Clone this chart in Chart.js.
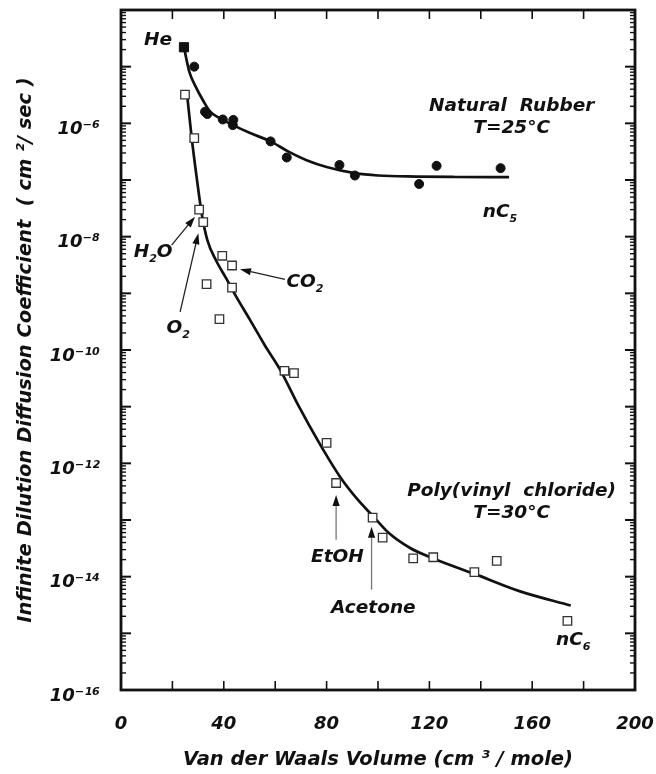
<!DOCTYPE html>
<html>
<head>
<meta charset="utf-8">
<script src="https://cdn.jsdelivr.net/npm/chart.js@4.4.1/dist/chart.umd.min.js"></script>
<style>
  html, body { margin: 0; padding: 0; background: #fff; }
  canvas { display: block; }
</style>
</head>
<body>
<canvas id="c" width="656" height="774" style="width:656px;height:774px"></canvas>
<script>
// ---- data -------------------------------------------------------------
// Natural rubber, 25 °C: measured points (Van der Waals volume, D in cm²/s)
const nrX = [24.5, 28.5, 32.7, 33.6, 39.6, 43.7, 43.5, 58.2, 64.5, 85, 91, 116, 122.8, 147.7];
const nrD = [2.2e-5, 1.0e-5, 1.6e-6, 1.46e-6, 1.17e-6, 1.15e-6, 9.3e-7, 4.8e-7, 2.5e-7, 1.84e-7, 1.2e-7, 8.5e-8, 1.78e-7, 1.62e-7];

// Natural rubber correlation curve
const nrFitX = [24.5, 26.6, 29, 32, 34.6, 38, 43.6, 50, 58.2, 65, 72.2, 80, 91, 100, 115, 130, 151];
const nrFitD = [2.2e-5, 8.1e-6, 4.5e-6, 2.5e-6, 1.62e-6, 1.26e-6, 9.3e-7, 6.8e-7, 4.8e-7, 3.2e-7, 2.24e-7, 1.7e-7, 1.32e-7, 1.2e-7, 1.15e-7, 1.13e-7, 1.12e-7];

// Poly(vinyl chloride), 30 °C: measured points
const pvcX = [24.9, 28.5, 30.4, 32.0, 39.4, 43.2, 33.3, 43.2, 38.3, 63.6, 67.3, 80.0, 83.7, 97.9, 101.8, 113.7, 121.5, 137.5, 146.2, 173.7];
const pvcD = [3.2e-6, 5.5e-7, 3.0e-8, 1.8e-8, 4.6e-9, 3.1e-9, 1.45e-9, 1.26e-9, 3.5e-10, 4.3e-11, 3.9e-11, 2.3e-12, 4.5e-13, 1.1e-13, 4.9e-14, 2.1e-14, 2.2e-14, 1.2e-14, 1.9e-14, 1.66e-15];

// Poly(vinyl chloride) correlation curve
const pvcFitX = [25.8, 27.5, 29.4, 31.4, 33.6, 37, 41, 45, 50.2, 56, 61.9, 69, 77, 85.2, 91.7, 98.2, 104, 112.5, 121.5, 137.5, 155.3, 175];
const pvcFitD = [2.95e-6, 5.6e-7, 1.15e-7, 2.57e-8, 8.7e-9, 3.8e-9, 1.82e-9, 8.5e-10, 3.4e-10, 1.2e-10, 4.5e-11, 1.05e-11, 2.34e-12, 5.8e-13, 2.4e-13, 1.15e-13, 6.0e-14, 3.2e-14, 2.1e-14, 1.12e-14, 5.5e-15, 3.1e-15];

// axis ticks
const xLabelTicks = [0, 40, 80, 120, 160, 200];
const xMarkTicks = [20, 40, 60, 80, 100, 120, 140, 160, 180];
const yLabelTicks = [1e-16, 1e-14, 1e-12, 1e-10, 1e-8, 1e-6];

// ---- text annotations (placed in data units) ---------------------------
const notes = [
  { parts: [['He', '']], x: 14.4, y: 2.9e-5 },
  { parts: [['Natural  Rubber', '']], x: 152, y: 1.97e-6 },
  { parts: [['T=25°C', '']], x: 152, y: 8.2e-7 },
  { parts: [['nC', ''], ['5', 'sub']], x: 147.5, y: 2.75e-8 },
  { parts: [['H', ''], ['2', 'sub'], ['O', '']], x: 12.5, y: 5.4e-9 },
  { parts: [['O', ''], ['2', 'sub']], x: 22.3, y: 2.4e-10 },
  { parts: [['CO', ''], ['2', 'sub']], x: 71.6, y: 1.55e-9 },
  { parts: [['EtOH', '']], x: 84.2, y: 2.2e-14 },
  { parts: [['Acetone', '']], x: 98.2, y: 2.75e-15 },
  { parts: [['Poly(vinyl  chloride)', '']], x: 152, y: 3.16e-13 },
  { parts: [['T=30°C', '']], x: 152, y: 1.32e-13 },
  { parts: [['nC', ''], ['6', 'sub']], x: 176, y: 7.6e-16 }
];
const arrows = [
  { from: [19.7, 7.1e-9], to: [28.8, 2.25e-8], color: '#222' },
  { from: [23.0, 4.7e-10], to: [30.1, 1.15e-8], color: '#222' },
  { from: [63.8, 1.77e-9], to: [46.3, 2.65e-9], color: '#222' },
  { from: [83.7, 4.5e-14], to: [83.7, 2.75e-13], color: '#777' },
  { from: [97.5, 5.9e-15], to: [97.5, 7.6e-14], color: '#777' }
];

// ---- helpers ----------------------------------------------------------
const FAMILY = '"DejaVu Sans", "Liberation Sans", sans-serif';
const INK = '#111';
const SUP = { '0': '⁰', '1': '¹', '2': '²', '3': '³', '4': '⁴', '5': '⁵', '6': '⁶', '7': '⁷', '8': '⁸', '9': '⁹', '-': '⁻' };
const toPoints = (xs, ys) => xs.map((v, i) => ({ x: v, y: ys[i] }));

function drawRich(ctx, parts, cx, cy, size) {
  const fontFor = k => `italic bold ${k ? Math.round(size * 0.62) : size}px ${FAMILY}`;
  let w = 0;
  for (const [t, k] of parts) { ctx.font = fontFor(k); w += ctx.measureText(t).width; }
  let px = cx - w / 2;
  ctx.textAlign = 'left';
  ctx.textBaseline = 'middle';
  for (const [t, k] of parts) {
    ctx.font = fontFor(k);
    const dy = k === 'sub' ? size * 0.38 : k === 'sup' ? -size * 0.4 : 0;
    ctx.fillText(t, px, cy + dy);
    px += ctx.measureText(t).width;
  }
}

function drawArrow(ctx, x1, y1, x2, y2, color) {
  const ang = Math.atan2(y2 - y1, x2 - x1);
  const len = 11, half = 3.6;
  const bx = x2 - Math.cos(ang) * len, by = y2 - Math.sin(ang) * len;
  ctx.strokeStyle = color;
  ctx.lineWidth = 1.3;
  ctx.beginPath();
  ctx.moveTo(x1, y1);
  ctx.lineTo(bx, by);
  ctx.stroke();
  ctx.fillStyle = INK;
  ctx.beginPath();
  ctx.moveTo(x2, y2);
  ctx.lineTo(bx - Math.sin(ang) * half, by + Math.cos(ang) * half);
  ctx.lineTo(bx + Math.sin(ang) * half, by - Math.cos(ang) * half);
  ctx.closePath();
  ctx.fill();
}

// frame, inward tick marks and annotations
const framePlugin = {
  id: 'frame',
  afterDraw(chart) {
    const { ctx, chartArea: a, scales: { x, y } } = chart;
    ctx.save();
    ctx.strokeStyle = INK;
    ctx.lineCap = 'butt';
    const seg = (x1, y1, x2, y2) => { ctx.beginPath(); ctx.moveTo(x1, y1); ctx.lineTo(x2, y2); ctx.stroke(); };

    ctx.lineWidth = 1.6;
    for (const v of xMarkTicks) {
      const px = x.getPixelForValue(v);
      seg(px, a.bottom, px, a.bottom - 9);
      seg(px, a.top, px, a.top + 9);
    }
    for (let e = -16; e <= -4; e++) {
      for (let m = 1; m <= 9; m++) {
        if (e === -4 && m > 1) break;
        const py = y.getPixelForValue(m * Math.pow(10, e));
        const len = m === 1 ? 10 : 5;
        ctx.lineWidth = m === 1 ? 2 : 1.4;
        seg(a.left, py, a.left + len, py);
        seg(a.right, py, a.right - len, py);
      }
    }
    ctx.lineWidth = 2.8;
    ctx.strokeRect(a.left, a.top, a.right - a.left, a.bottom - a.top);

    for (const ar of arrows) {
      drawArrow(ctx,
        x.getPixelForValue(ar.from[0]), y.getPixelForValue(ar.from[1]),
        x.getPixelForValue(ar.to[0]), y.getPixelForValue(ar.to[1]), ar.color);
    }
    ctx.fillStyle = INK;
    for (const n of notes) {
      drawRich(ctx, n.parts, x.getPixelForValue(n.x), y.getPixelForValue(n.y), 18.5);
    }
    ctx.restore();
  }
};

// ---- chart ------------------------------------------------------------
const tickFont = { family: FAMILY, size: 18, style: 'italic', weight: 'bold' };
const titleFont = { family: FAMILY, size: 19.5, style: 'italic', weight: 'bold' };

new Chart(document.getElementById('c'), {
  type: 'scatter',
  data: {
    datasets: [
      {
        label: 'Natural Rubber (25 °C)',
        data: toPoints(nrX, nrD),
        pointStyle: nrX.map((_, i) => (i === 0 ? 'rect' : 'circle')),
        pointRadius: nrX.map((_, i) => (i === 0 ? 6.5 : 4.5)),
        backgroundColor: INK,
        borderColor: INK,
        borderWidth: 1,
        order: 0
      },
      {
        label: 'Poly(vinyl chloride) (30 °C)',
        data: toPoints(pvcX, pvcD),
        pointStyle: 'rect',
        pointRadius: 6,
        backgroundColor: '#fff',
        borderColor: '#333',
        borderWidth: 1.3,
        order: 0
      },
      {
        label: 'Natural Rubber correlation',
        data: toPoints(nrFitX, nrFitD),
        showLine: true,
        cubicInterpolationMode: 'monotone',
        pointRadius: 0,
        borderColor: INK,
        borderWidth: 2.7,
        order: 1
      },
      {
        label: 'Poly(vinyl chloride) correlation',
        data: toPoints(pvcFitX, pvcFitD),
        showLine: true,
        cubicInterpolationMode: 'monotone',
        pointRadius: 0,
        borderColor: INK,
        borderWidth: 2.7,
        order: 1
      }
    ]
  },
  options: {
    responsive: false,
    animation: false,
    events: [],
    layout: { padding: { top: 10, right: 21, left: 0, bottom: 0 } },
    plugins: { legend: { display: false }, tooltip: { enabled: false } },
    scales: {
      x: {
        type: 'linear',
        min: 0,
        max: 200,
        afterBuildTicks: s => { s.ticks = xLabelTicks.map(v => ({ value: v })); },
        afterFit: s => { s.height = 84; s.paddingLeft = 0; s.paddingRight = 0; },
        grid: { display: false, drawTicks: false },
        border: { display: false },
        ticks: { font: tickFont, color: INK, padding: 24, maxRotation: 0, autoSkip: false },
        title: {
          display: true,
          text: 'Van der Waals Volume (cm ³ / mole)',
          font: titleFont,
          color: INK,
          padding: { top: 0, bottom: 2 }
        }
      },
      y: {
        type: 'logarithmic',
        min: 1e-16,
        max: 1e-4,
        afterBuildTicks: s => { s.ticks = yLabelTicks.map(v => ({ value: v })); },
        afterFit: s => { s.width = 121; s.paddingTop = 0; s.paddingBottom = 0; },
        grid: { display: false, drawTicks: false },
        border: { display: false },
        ticks: {
          font: tickFont,
          color: INK,
          padding: 21,
          labelOffset: 6,
          autoSkip: false,
          callback: v => '10' + String(Math.round(Math.log10(v))).split('').map(c => SUP[c]).join('')
        },
        title: {
          display: true,
          text: 'Infinite Dilution Diffusion Coefficient  ( cm ²/ sec )',
          font: titleFont,
          color: INK,
          padding: { top: 14, bottom: 0 }
        }
      }
    }
  },
  plugins: [framePlugin]
});
</script>
</body>
</html>
